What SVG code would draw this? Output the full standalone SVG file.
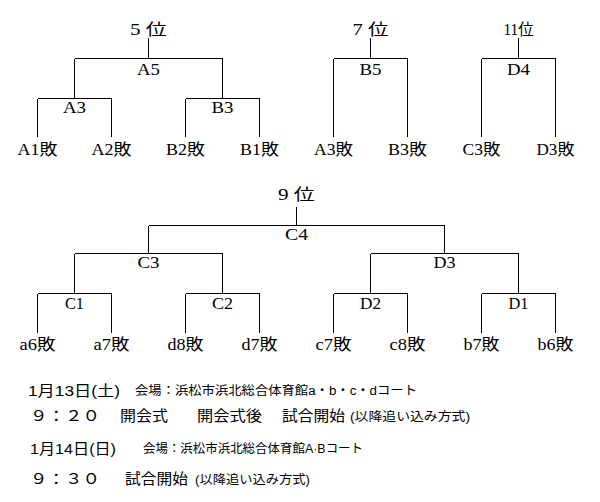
<svg xmlns="http://www.w3.org/2000/svg" width="600" height="502" viewBox="0 0 600 502">
<style>
.t{font-family:"Liberation Serif","Noto Sans CJK JP",serif;font-size:16px;fill:#000;text-anchor:middle}
.g{font-family:"Liberation Sans","Noto Sans CJK JP",sans-serif;fill:#000}
.b{font-size:15px}
.s{font-size:12.5px}
#connectors line{stroke:#000;stroke-width:1;shape-rendering:crispEdges}
</style>
<rect width="600" height="502" fill="#fff"/>
<g id="connectors">
<!-- 5位 -->
<line x1="148.5" y1="38" x2="148.5" y2="58.5"/>
<line x1="74.5" y1="58.5" x2="222.5" y2="58.5"/>
<line x1="74.5" y1="58.5" x2="74.5" y2="98.5"/>
<line x1="222.5" y1="58.5" x2="222.5" y2="98.5"/>
<line x1="37.5" y1="98.5" x2="111.5" y2="98.5"/>
<line x1="185.5" y1="98.5" x2="259.5" y2="98.5"/>
<line x1="37.5" y1="98.5" x2="37.5" y2="137"/>
<line x1="111.5" y1="98.5" x2="111.5" y2="137"/>
<line x1="185.5" y1="98.5" x2="185.5" y2="137"/>
<line x1="259.5" y1="98.5" x2="259.5" y2="137"/>
<!-- 7位 -->
<line x1="370.5" y1="38" x2="370.5" y2="58.5"/>
<line x1="333.5" y1="58.5" x2="407.5" y2="58.5"/>
<line x1="333.5" y1="58.5" x2="333.5" y2="137"/>
<line x1="407.5" y1="58.5" x2="407.5" y2="137"/>
<!-- 11位 -->
<line x1="518.5" y1="38" x2="518.5" y2="58.5"/>
<line x1="481.5" y1="58.5" x2="555.5" y2="58.5"/>
<line x1="481.5" y1="58.5" x2="481.5" y2="137"/>
<line x1="555.5" y1="58.5" x2="555.5" y2="137"/>
<!-- 9位 -->
<line x1="296.5" y1="207" x2="296.5" y2="225.5"/>
<line x1="148.5" y1="225.5" x2="444.5" y2="225.5"/>
<line x1="148.5" y1="225.5" x2="148.5" y2="253.5"/>
<line x1="444.5" y1="225.5" x2="444.5" y2="253.5"/>
<line x1="74.5" y1="253.5" x2="222.5" y2="253.5"/>
<line x1="370.5" y1="253.5" x2="518.5" y2="253.5"/>
<line x1="74.5" y1="253.5" x2="74.5" y2="293.5"/>
<line x1="222.5" y1="253.5" x2="222.5" y2="293.5"/>
<line x1="370.5" y1="253.5" x2="370.5" y2="293.5"/>
<line x1="518.5" y1="253.5" x2="518.5" y2="293.5"/>
<line x1="37.5" y1="293.5" x2="111.5" y2="293.5"/>
<line x1="185.5" y1="293.5" x2="259.5" y2="293.5"/>
<line x1="333.5" y1="293.5" x2="407.5" y2="293.5"/>
<line x1="481.5" y1="293.5" x2="555.5" y2="293.5"/>
<line x1="37.5" y1="293.5" x2="37.5" y2="333"/>
<line x1="111.5" y1="293.5" x2="111.5" y2="333"/>
<line x1="185.5" y1="293.5" x2="185.5" y2="333"/>
<line x1="259.5" y1="293.5" x2="259.5" y2="333"/>
<line x1="333.5" y1="293.5" x2="333.5" y2="333"/>
<line x1="407.5" y1="293.5" x2="407.5" y2="333"/>
<line x1="481.5" y1="293.5" x2="481.5" y2="333"/>
<line x1="555.5" y1="293.5" x2="555.5" y2="333"/>
</g>
<!-- ranks -->
<g id="rank5"><text class="t" x="148.5" y="35" textLength="37" lengthAdjust="spacingAndGlyphs">5 位</text></g>
<g id="rank7"><text class="t" x="370.5" y="35" textLength="36" lengthAdjust="spacingAndGlyphs">7 位</text></g>
<g id="rank11"><text class="t" x="518.5" y="35" textLength="30" lengthAdjust="spacingAndGlyphs">11位</text></g>
<g id="rank9"><text class="t" x="296.5" y="200" textLength="37" lengthAdjust="spacingAndGlyphs">9 位</text></g>
<!-- matches -->
<g id="A5"><text class="t" x="148.5" y="75" textLength="23" lengthAdjust="spacingAndGlyphs">A5</text></g>
<g id="A3"><text class="t" x="74.5" y="113" textLength="23" lengthAdjust="spacingAndGlyphs">A3</text></g>
<g id="B3"><text class="t" x="222.5" y="113" textLength="22" lengthAdjust="spacingAndGlyphs">B3</text></g>
<g id="B5"><text class="t" x="370.5" y="75" textLength="22" lengthAdjust="spacingAndGlyphs">B5</text></g>
<g id="D4"><text class="t" x="518.5" y="75" textLength="23" lengthAdjust="spacingAndGlyphs">D4</text></g>
<g id="C4"><text class="t" x="296.5" y="240" textLength="23" lengthAdjust="spacingAndGlyphs">C4</text></g>
<g id="C3"><text class="t" x="148.5" y="268" textLength="22" lengthAdjust="spacingAndGlyphs">C3</text></g>
<g id="D3"><text class="t" x="444.5" y="268" textLength="22" lengthAdjust="spacingAndGlyphs">D3</text></g>
<g id="C1"><text class="t" x="74.5" y="309" textLength="19" lengthAdjust="spacingAndGlyphs">C1</text></g>
<g id="C2"><text class="t" x="222.5" y="309" textLength="21" lengthAdjust="spacingAndGlyphs">C2</text></g>
<g id="D2"><text class="t" x="370.5" y="309" textLength="21" lengthAdjust="spacingAndGlyphs">D2</text></g>
<g id="D1"><text class="t" x="518.5" y="309" textLength="20" lengthAdjust="spacingAndGlyphs">D1</text></g>
<!-- leaves -->
<g id="A1L"><text class="t" x="37.5" y="155" textLength="40" lengthAdjust="spacingAndGlyphs">A1敗</text></g>
<g id="A2L"><text class="t" x="111.5" y="155" textLength="40" lengthAdjust="spacingAndGlyphs">A2敗</text></g>
<g id="B2L"><text class="t" x="185.5" y="155" textLength="39" lengthAdjust="spacingAndGlyphs">B2敗</text></g>
<g id="B1L"><text class="t" x="259.5" y="155" textLength="39" lengthAdjust="spacingAndGlyphs">B1敗</text></g>
<g id="A3L"><text class="t" x="333.5" y="155" textLength="39" lengthAdjust="spacingAndGlyphs">A3敗</text></g>
<g id="B3L"><text class="t" x="407.5" y="155" textLength="39" lengthAdjust="spacingAndGlyphs">B3敗</text></g>
<g id="C3L"><text class="t" x="481.5" y="155" textLength="38" lengthAdjust="spacingAndGlyphs">C3敗</text></g>
<g id="D3L"><text class="t" x="555.5" y="155" textLength="38" lengthAdjust="spacingAndGlyphs">D3敗</text></g>
<g id="a6L"><text class="t" x="37.5" y="350" textLength="36" lengthAdjust="spacingAndGlyphs">a6敗</text></g>
<g id="a7L"><text class="t" x="111.5" y="350" textLength="36" lengthAdjust="spacingAndGlyphs">a7敗</text></g>
<g id="d8L"><text class="t" x="185.5" y="350" textLength="36" lengthAdjust="spacingAndGlyphs">d8敗</text></g>
<g id="d7L"><text class="t" x="259.5" y="350" textLength="36" lengthAdjust="spacingAndGlyphs">d7敗</text></g>
<g id="c7L"><text class="t" x="333.5" y="350" textLength="36" lengthAdjust="spacingAndGlyphs">c7敗</text></g>
<g id="c8L"><text class="t" x="407.5" y="350" textLength="36" lengthAdjust="spacingAndGlyphs">c8敗</text></g>
<g id="b7L"><text class="t" x="481.5" y="350" textLength="36" lengthAdjust="spacingAndGlyphs">b7敗</text></g>
<g id="b6L"><text class="t" x="555.5" y="350" textLength="36" lengthAdjust="spacingAndGlyphs">b6敗</text></g>
<!-- schedule -->
<g id="schedule">
<text class="g b" x="28" y="396" textLength="92" lengthAdjust="spacingAndGlyphs">1月13日(土)</text>
<text class="g s" x="135" y="395" textLength="282" lengthAdjust="spacingAndGlyphs">会場：浜松市浜北総合体育館a・b・c・dコート</text>
<text class="g b" x="30" y="421" textLength="70" lengthAdjust="spacingAndGlyphs">９：２０</text>
<text class="g b" x="120" y="421" textLength="48" lengthAdjust="spacingAndGlyphs">開会式</text>
<text class="g b" x="197" y="421" textLength="65" lengthAdjust="spacingAndGlyphs">開会式後</text>
<text class="g b" x="282" y="421" textLength="63" lengthAdjust="spacingAndGlyphs">試合開始</text>
<text class="g s" x="350" y="421" textLength="120" lengthAdjust="spacingAndGlyphs">(以降追い込み方式)</text>
<text class="g b" x="30" y="454" textLength="86" lengthAdjust="spacingAndGlyphs">1月14日(日)</text>
<text class="g s" x="143" y="453" textLength="220" lengthAdjust="spacingAndGlyphs">会場：浜松市浜北総合体育館A·Bコート</text>
<text class="g b" x="30" y="484" textLength="70" lengthAdjust="spacingAndGlyphs">９：３０</text>
<text class="g b" x="125" y="484" textLength="63" lengthAdjust="spacingAndGlyphs">試合開始</text>
<text class="g s" x="195" y="484" textLength="115" lengthAdjust="spacingAndGlyphs">(以降追い込み方式)</text>
</g>
</svg>
